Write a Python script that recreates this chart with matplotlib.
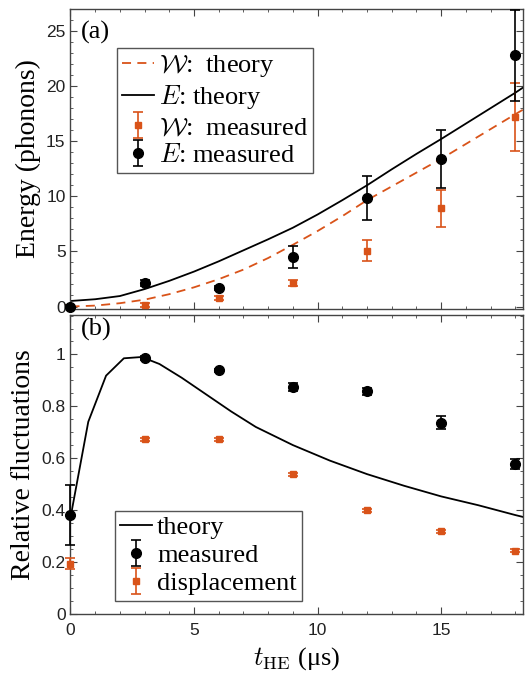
import matplotlib
matplotlib.use('Agg')
import matplotlib.pyplot as plt
from matplotlib.ticker import MultipleLocator

plt.rcParams['font.family'] = ['Liberation Serif', 'DejaVu Serif']
plt.rcParams['mathtext.fontset'] = 'cm'

ORANGE = '#D95319'
SPINE = '#444444'
SANS = ['Liberation Sans', 'DejaVu Sans']

# ─── data (a) ─────────
t_meas = [0, 3, 6, 9, 12, 15, 18]
E_meas = [0.0, 2.12, 1.66, 4.45, 9.88, 13.36, 22.8]
E_err = [0.15, 0.3, 0.2, 1.0, 2.0, 2.62, 4.15]
W_meas = [0.0, 0.15, 0.76, 2.15, 5.05, 8.92, 17.2]
W_err = [0.1, 0.15, 0.15, 0.3, 0.95, 1.67, 3.1]

t_theory = [0, 1, 2, 3, 4, 5, 6, 7, 8, 9, 10, 11, 12, 13, 14, 15, 16, 17, 18, 18.3]
E_theory = [0.5, 0.66, 0.95, 1.58, 2.33, 3.17, 4.1, 5.1, 6.1, 7.15, 8.35, 9.65,
            11.0, 12.45, 13.85, 15.2, 16.6, 18.0, 19.4, 19.85]
W_theory = [0.0, 0.08, 0.3, 0.62, 1.12, 1.74, 2.48, 3.35, 4.4, 5.6, 6.85, 8.2,
            9.65, 10.9, 12.15, 13.4, 14.75, 16.1, 17.45, 17.85]

# ─── data (b) ─────────
rel_meas = [0.38, 0.985, 0.938, 0.875, 0.857, 0.737, 0.578]
rel_err = [0.116, 0.008, 0.006, 0.015, 0.012, 0.025, 0.02]
disp_meas = [0.193, 0.672, 0.672, 0.537, 0.399, 0.318, 0.243]
disp_err = [0.02, 0.006, 0.006, 0.006, 0.006, 0.006, 0.006]

t_rel_theory = [0, 0.72, 1.44, 2.16, 2.88, 3.6, 4.5, 5.5, 6.5, 7.5, 9, 10.5,
                12, 13.5, 15, 16.5, 18, 18.3]
rel_theory = [0.37, 0.74, 0.918, 0.985, 0.99, 0.963, 0.91, 0.845, 0.78, 0.72,
              0.65, 0.59, 0.538, 0.493, 0.452, 0.418, 0.38, 0.373]


def _style(ax):
    for s in ax.spines.values():
        s.set_color(SPINE)
        s.set_linewidth(1.0)
    ax.tick_params(which='both', direction='in', top=True, right=True,
                   color=SPINE, labelcolor='#222222')
    ax.tick_params(which='major', length=5, labelsize=12.5)
    ax.tick_params(which='minor', length=2.5)
    ax.tick_params(axis='x', pad=7)
    ax.xaxis.set_major_locator(MultipleLocator(5))
    ax.xaxis.set_minor_locator(MultipleLocator(1))


def _sans_ticks(ax):
    for lab in ax.get_xticklabels() + ax.get_yticklabels():
        lab.set_family(SANS)


def _legend(ax, **kw):
    leg = ax.legend(fontsize=19, handlelength=1.2, handletextpad=0.2,
                    labelspacing=0.17, borderpad=0.2, borderaxespad=0,
                    fancybox=False, framealpha=1, edgecolor='#555555', **kw)
    leg.get_frame().set_linewidth(1.0)
    return leg


fig = plt.figure(figsize=(5.26, 6.73), dpi=100)
ax_a = fig.add_axes([0.134, 0.5413, 0.8597, 0.4453])
ax_b = fig.add_axes([0.134, 0.0884, 0.8597, 0.4435])

# ─── (a) energy ─────────
ax_a.plot(t_theory, W_theory, color=ORANGE, lw=1.3, ls=(0, (5, 3.5)),
          label=r'$\mathcal{W}$:  theory')
ax_a.plot(t_theory, E_theory, color='black', lw=1.3, label=r'$E$: theory')
ax_a.errorbar(t_meas, W_meas, yerr=W_err, fmt='s', color=ORANGE, ms=5,
              capsize=3.5, elinewidth=1.2, capthick=1.2, clip_on=False,
              label=r'$\mathcal{W}$:  measured', zorder=3)
ax_a.errorbar(t_meas, E_meas, yerr=E_err, fmt='o', color='black', ms=7,
              capsize=3.5, elinewidth=1.2, capthick=1.2, clip_on=False,
              label=r'$E$: measured', zorder=4)
ax_a.set_xlim(0, 18.3)
ax_a.set_ylim(-0.2, 27)
_style(ax_a)
ax_a.yaxis.set_major_locator(MultipleLocator(5))
ax_a.yaxis.set_minor_locator(MultipleLocator(1))
ax_a.tick_params(labelbottom=False)
_sans_ticks(ax_a)
ax_a.set_ylabel('Energy (phonons)', fontsize=20, labelpad=4)
ax_a.text(0.024, 0.96, '(a)', transform=ax_a.transAxes, fontsize=19,
          va='top', ha='left')
_legend(ax_a, loc='upper left', bbox_to_anchor=(0.102, 0.871))

# ─── (b) relative fluctuations ─────────
ax_b.plot(t_rel_theory, rel_theory, color='black', lw=1.3, label='theory')
ax_b.errorbar(t_meas, rel_meas, yerr=rel_err, fmt='o', color='black', ms=7,
              capsize=3.5, elinewidth=1.2, capthick=1.2, clip_on=False,
              label='measured', zorder=4)
ax_b.errorbar(t_meas, disp_meas, yerr=disp_err, fmt='s', color=ORANGE, ms=5,
              capsize=3.5, elinewidth=1.2, capthick=1.2, clip_on=False,
              label='displacement', zorder=3)
ax_b.set_xlim(0, 18.3)
ax_b.set_ylim(0, 1.152)
_style(ax_b)
ax_b.yaxis.set_minor_locator(MultipleLocator(0.05))
ax_b.set_yticks([0, 0.2, 0.4, 0.6, 0.8, 1.0], ['0', '0.2', '0.4', '0.6', '0.8', '1'])
_sans_ticks(ax_b)
ax_b.set_ylabel('Relative fluctuations', fontsize=20, labelpad=4)
ax_b.set_xlabel(r'$t_{\mathrm{HE}}$ (μs)', fontsize=19, labelpad=5)
ax_b.text(0.024, 0.99, '(b)', transform=ax_b.transAxes, fontsize=19,
          va='top', ha='left')
_legend(ax_b, loc='lower left', bbox_to_anchor=(0.098, 0.043))

fig.savefig('out.png', dpi=100)
